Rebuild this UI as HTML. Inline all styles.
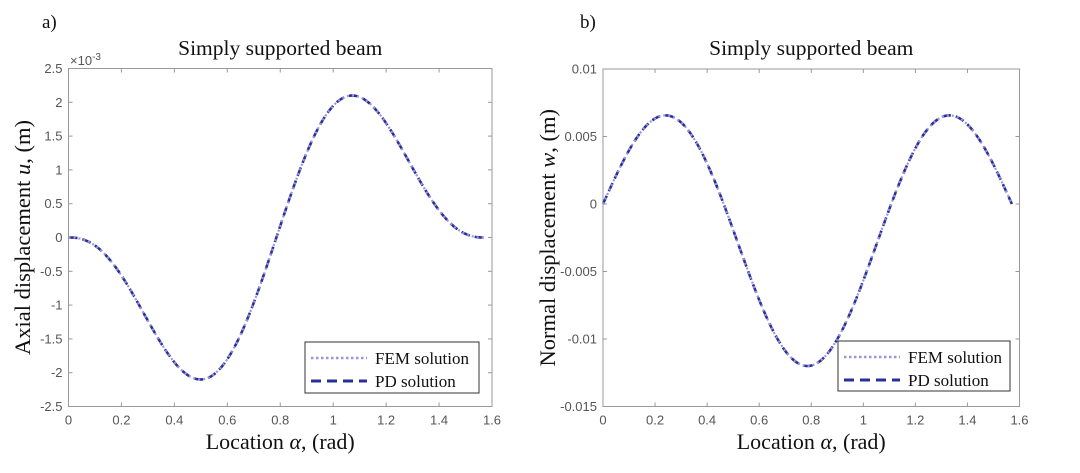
<!DOCTYPE html>
<html><head><meta charset="utf-8"><style>
html,body{margin:0;padding:0;background:#fff;width:1080px;height:473px;overflow:hidden}
svg{display:block}
.tk{font-family:"Liberation Sans",sans-serif;font-size:13px;fill:#555}
.sf{font-family:"Liberation Serif",serif;fill:#111}
</style></head><body>
<svg id="s" width="1080" height="473" xmlns="http://www.w3.org/2000/svg"></svg>
<script>
const S=document.getElementById('s');let h='';
function panel(o){
 const {x0,x1,y0,y1,ymin,ymax,yt,fn,lab,ylab,leg}=o;
 const X=v=>x0+(x1-x0)*v/1.6, Y=v=>y1-(y1-y0)*(v-ymin)/(ymax-ymin);
 h+=`<rect x="${x0}" y="${y0}" width="${x1-x0}" height="${y1-y0}" fill="#fff" stroke="#999" stroke-width="1"/>`;
 for(let i=0;i<=8;i++){const v=i*0.2,x=X(v);
  h+=`<line x1="${x}" y1="${y1}" x2="${x}" y2="${y1-4}" stroke="#999"/><line x1="${x}" y1="${y0}" x2="${x}" y2="${y0+4}" stroke="#999"/>`;
  h+=`<text class="tk" x="${x}" y="${y1+18}" text-anchor="middle">${+v.toFixed(1)}</text>`;}
 yt.forEach(([v,t])=>{const y=Y(v);
  h+=`<line x1="${x0}" y1="${y}" x2="${x0+4}" y2="${y}" stroke="#999"/><line x1="${x1}" y1="${y}" x2="${x1-4}" y2="${y}" stroke="#999"/>`;
  h+=`<text class="tk" x="${x0-6}" y="${y+4.5}" text-anchor="end">${t}</text>`;});
 let p='';for(let i=0;i<=300;i++){const a=Math.PI/2*i/300;p+=(i?'L':'M')+X(a).toFixed(2)+','+Y(fn(a)).toFixed(2);}
 h+=`<path d="${p}" fill="none" stroke="#2a2f96" stroke-width="2.6" stroke-dasharray="9,5"/>`;
 h+=`<path d="${p}" fill="none" stroke="#9a94e0" stroke-width="2.2" stroke-dasharray="2,3"/>`;
 h+=`<text class="sf" x="${(x0+x1)/2}" y="55" font-size="21.5" text-anchor="middle">Simply supported beam</text>`;
 h+=`<text class="sf" x="${(x0+x1)/2}" y="449" font-size="22" text-anchor="middle">Location <tspan font-style="italic">α</tspan>, (rad)</text>`;
 h+=`<text class="sf" transform="translate(${lab},${(y0+y1)/2}) rotate(-90)" font-size="22.5" text-anchor="middle">${ylab}</text>`;
 const [lx,ly,lw,lh]=leg;
 h+=`<rect x="${lx}" y="${ly}" width="${lw}" height="${lh}" fill="#fff" stroke="#333" stroke-width="1"/>`;
 h+=`<line x1="${lx+6}" y1="${ly+16}" x2="${lx+62}" y2="${ly+16}" stroke="#9a94e0" stroke-width="2.5" stroke-dasharray="2.5,2.5"/>`;
 h+=`<line x1="${lx+6}" y1="${ly+39}" x2="${lx+62}" y2="${ly+39}" stroke="#2a2f96" stroke-width="3" stroke-dasharray="10,6"/>`;
 h+=`<text class="sf" x="${lx+70}" y="${ly+22}" font-size="17">FEM solution</text>`;
 h+=`<text class="sf" x="${lx+70}" y="${ly+45}" font-size="17">PD solution</text>`;
}
panel({x0:68.5,x1:492,y0:68.5,y1:406.5,ymin:-2.5,ymax:2.5,
 yt:[[2.5,'2.5'],[2,'2'],[1.5,'1.5'],[1,'1'],[0.5,'0.5'],[0,'0'],[-0.5,'-0.5'],[-1,'-1'],[-1.5,'-1.5'],[-2,'-2'],[-2.5,'-2.5']],
 fn:a=>{const t=4*a;return -1.81*Math.sin(t)*Math.pow(Math.max(0,1-Math.cos(t)),0.7);},
 lab:30,ylab:'Axial displacement <tspan font-style="italic">u</tspan>, (m)',leg:[305,342,174,51]});
h+=`<text class="tk" x="70" y="65" font-size="12">×10<tspan dy="-5" font-size="10">-3</tspan></text>`;
panel({x0:603,x1:1019.5,y0:69,y1:406.5,ymin:-0.015,ymax:0.01,
 yt:[[0.01,'0.01'],[0.005,'0.005'],[0,'0'],[-0.005,'-0.005'],[-0.01,'-0.01'],[-0.015,'-0.015']],
 fn:a=>-0.00367*Math.sin(2*a)+0.00833*Math.sin(6*a),
 lab:555,ylab:'Normal displacement <tspan font-style="italic">w</tspan>, (m)',leg:[838,341,172,50]});
h+=`<text class="sf" x="42" y="28" font-size="19">a)</text><text class="sf" x="580" y="28" font-size="19">b)</text>`;
S.innerHTML=h;
</script>
</body></html>
